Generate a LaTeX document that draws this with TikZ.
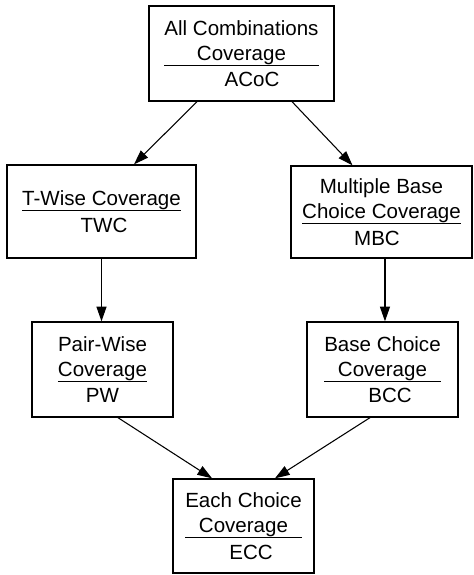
\documentclass[tikz,border=0pt]{standalone}
\usepackage{fontspec}
\setmainfont{Liberation Sans}
\usetikzlibrary{arrows.meta}
\setlength{\arrayrulewidth}{0.9pt}
\newcommand{\boxtext}[3]{\begin{tabular}{@{}c@{}}#1\\[-2.5pt]\hline\rule{0pt}{15.75pt}#2\\[-4pt]\end{tabular}}
\begin{document}
\begin{tikzpicture}[x=0.75pt,y=-0.75pt,
  cbox/.style={draw, line width=1pt, rectangle, inner sep=0pt, align=center,
    font=\fontsize{15.4pt}{18.75pt}\selectfont},
  conn/.style={line width=0.8pt, -{Triangle[length=11pt,width=7.5pt]}}]
\useasboundingbox (0,0) rectangle (474,575);
\node[cbox, minimum width=138.75pt, minimum height=71.25pt] (acoc) at (241.5,53.5)
  {\boxtext{All Combinations\\Coverage}{\hspace*{15.75pt}ACoC}{}};
\node[cbox, minimum width=141.75pt, minimum height=69.75pt] (twc) at (101.5,211.5)
  {\boxtext{T-Wise Coverage}{\hspace*{3.75pt}TWC}{}};
\node[cbox, minimum width=135.75pt, minimum height=69pt] (mbc) at (381.5,212)
  {\boxtext{Multiple Base\\Choice Coverage}{MBC\hspace*{6.75pt}}{}};
\node[cbox, minimum width=105.75pt, minimum height=71.25pt] (pw) at (102.5,369.5)
  {\boxtext{Pair-Wise\\Coverage}{PW}{}};
\node[cbox, minimum width=113.25pt, minimum height=71.25pt] (bcc) at (382.5,369.5)
  {\boxtext{Base Choice\\Coverage}{\hspace*{11.25pt}BCC}{}};
\node[cbox, minimum width=105.75pt, minimum height=70.5pt] (ecc) at (243.5,526)
  {\boxtext{Each Choice\\Coverage}{\hspace*{11.25pt}ECC}{}};
\draw[conn] ([xshift=-33.4pt]acoc.south) -- ([xshift=24.4pt]twc.north);
\draw[conn] ([xshift=37.9pt]acoc.south) -- ([xshift=-21.75pt]mbc.north);
\draw[conn] (twc.south) -- (twc.south |- pw.north);
\draw[conn] ([xshift=2.6pt]mbc.south) -- ([xshift=2.6pt]mbc.south |- bcc.north);
\draw[conn] ([xshift=11.6pt]pw.south) -- ([xshift=-23.6pt]ecc.north);
\draw[conn] ([xshift=-9.4pt]bcc.south) -- ([xshift=23.6pt]ecc.north);
\end{tikzpicture}
\end{document}
